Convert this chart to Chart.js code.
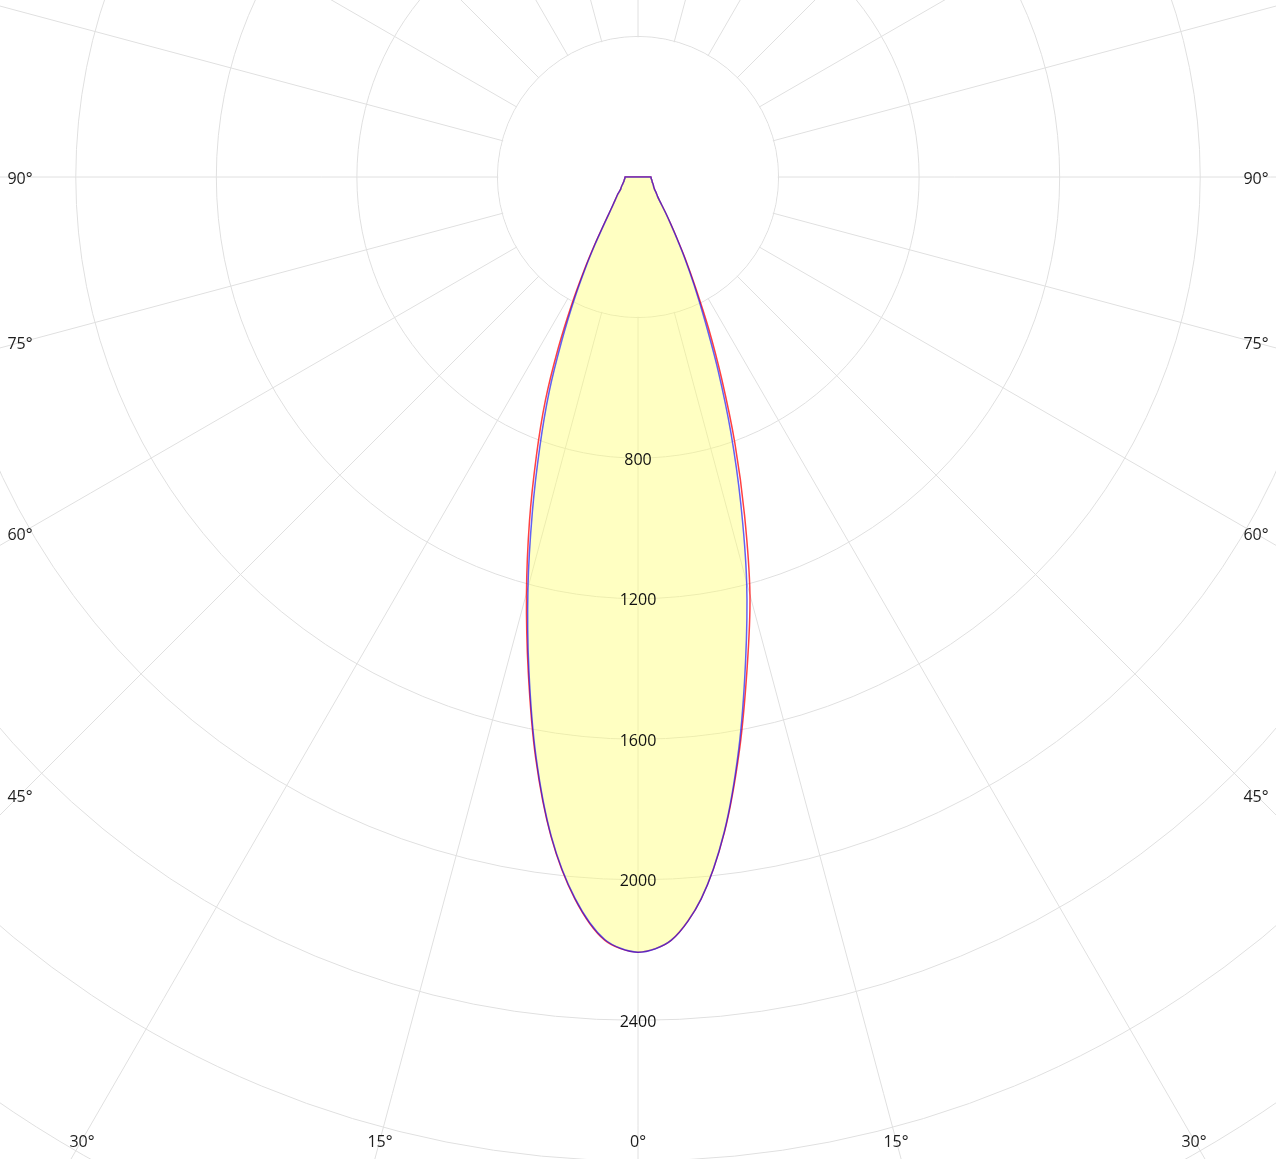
<!DOCTYPE html>
<html><head><meta charset="utf-8">
<script src="https://cdn.jsdelivr.net/npm/chart.js@4.4.1/dist/chart.umd.min.js"></script>
<style>
html,body{margin:0;padding:0;width:1276px;height:1159px;overflow:hidden;background:#fff;}
#wrap{position:absolute;left:0;top:0;width:1276px;height:1159px;overflow:hidden;}
#c{position:absolute;left:0;top:0;}
</style></head><body>
<div id="wrap"><canvas id="c" width="2530" height="2530"></canvas></div>
<script>
// gamma step (degrees) of the photometric readings
const gammaStep = 2.5;
// intensities (cd) for gamma = 0, 2.5, ... 90 degrees
const blueLeft  = [2206, 2172, 2060, 1892, 1673, 1435, 1210, 1000, 817, 660, 512, 393, 299, 228, 176, 142, 119, 103, 91, 82, 74, 66, 60, 57, 54, 51, 48, 46, 44, 42, 41, 40, 39, 38, 37, 37, 37];
const blueRight = [2206, 2174, 2062, 1880, 1652, 1414, 1195, 972, 772, 595, 450, 345, 265, 203, 160, 130, 106, 90, 79, 72, 66, 60, 56, 53, 51, 49, 47, 45, 43, 42, 41, 40, 39, 38, 37, 37, 37];
const redLeft   = [2206, 2174, 2062, 1894, 1678, 1443, 1226, 1027, 846, 689, 537, 408, 307, 232, 178, 143, 119, 103, 91, 82, 74, 66, 60, 57, 54, 51, 48, 46, 44, 42, 41, 40, 39, 38, 37, 37, 37];
const redRight  = [2206, 2174, 2062, 1882, 1660, 1434, 1231, 1008, 806, 623, 475, 355, 270, 205, 161, 130, 106, 90, 79, 72, 66, 60, 56, 53, 51, 49, 47, 45, 43, 42, 41, 40, 39, 38, 37, 37, 37];
// upper hemisphere (gamma 92.5 .. 267.5): no light
const upperHemisphere = [0,0,0,0,0,0,0,0,0,0,0,0,0,0,0,0,0,0,0,0,0,0,0,0,0,0,0,0,0,0,0,0,0,0,0,0,0,0,0,0,0,0,0,0,0,0,0,0,0,0,0,0,0,0,0,0,0,0,0,0,0,0,0,0,0,0,0,0,0,0,0];
// radial tick labels
const tickValues = [800, 1200, 1600, 2000, 2400];
const tickLabels = ['800', '1200', '1600', '2000', '2400'];
// angle labels
const angleMarks  = [0, 15, 30, 45, 60, 75, 90];
const angleLabels = ['0°', '15°', '30°', '45°', '60°', '75°', '90°'];

const PAGE_CX = 638, PAGE_CY = 177;
const TEXT_SHIFT = 2;
const labels = [];
for (let i = 0; i < 360 / gammaStep; i++) labels.push(String(i * gammaStep));

function buildLoop(left, right) {
  return left.concat(upperHemisphere, right.slice(1).reverse());
}

const decor = {
  id: 'decor',
  beforeDatasetsDraw(chart) {
    const s = chart.scales.r, ctx = chart.ctx;
    const r = s.getDistanceFromCenterForValue(400) - 0.8;
    ctx.save();
    ctx.beginPath();
    ctx.arc(s.xCenter, s.yCenter, r, 0, Math.PI * 2);
    ctx.fillStyle = '#ffffff';
    ctx.fill();
    ctx.restore();
  },
  afterDatasetsDraw(chart) {
    const s = chart.scales.r, ctx = chart.ctx;
    ctx.save();
    ctx.font = '16px "Open Sans"';
    ctx.textAlign = 'center';
    ctx.textBaseline = 'middle';
    ctx.fillStyle = '#111';
    tickValues.forEach((v, i) => {
      const d = s.getDistanceFromCenterForValue(v);
      ctx.fillText(tickLabels[i], s.xCenter, s.yCenter + d + TEXT_SHIFT);
    });
    ctx.fillStyle = '#1e1e1e';
    const box = {left: 20, right: 1256, bottom: 1140};
    angleMarks.forEach((g, i) => {
      const n = labels.length;
      const idxs = g === 0 ? [0] : [g / gammaStep, n - g / gammaStep];
      idxs.forEach(idx => {
        const p = s.getPointPosition(idx, 1000);
        const dx = (p.x - s.xCenter) / 1000, dy = (p.y - s.yCenter) / 1000;
        let t = Infinity;
        if (dx < -1e-9) t = Math.min(t, (box.left - PAGE_CX) / dx);
        if (dx > 1e-9) t = Math.min(t, (box.right - PAGE_CX) / dx);
        if (dy > 1e-9) t = Math.min(t, (box.bottom - PAGE_CY) / dy);
        ctx.fillText(angleLabels[i], s.xCenter + dx * t, s.yCenter + dy * t + TEXT_SHIFT);
      });
    });
    ctx.restore();
  },
  afterLayout(chart) {
    const s = chart.scales.r;
    chart.canvas.style.left = (PAGE_CX - s.xCenter) + 'px';
    chart.canvas.style.top = (PAGE_CY - s.yCenter) + 'px';
  }
};

const chart = new Chart(document.getElementById('c'), {
  type: 'radar',
  data: {
    labels: labels,
    datasets: [
      {
        label: 'C0-C180',
        data: buildLoop(blueLeft, blueRight),
        borderColor: 'rgba(0,0,255,0.62)',
        borderWidth: 1.5,
        backgroundColor: 'rgba(255,255,110,0.42)',
        fill: true,
        tension: 0.3,
        pointRadius: 0
      },
      {
        label: 'C90-C270',
        data: buildLoop(redLeft, redRight),
        borderColor: 'rgba(255,0,0,0.75)',
        borderWidth: 1.5,
        fill: false,
        tension: 0.3,
        pointRadius: 0
      }
    ]
  },
  options: {
    responsive: false,
    maintainAspectRatio: false,
    animation: false,
    devicePixelRatio: 1,
    layout: {padding: 0},
    plugins: {legend: {display: false}, tooltip: {enabled: false}},
    elements: {point: {radius: 0, hoverRadius: 0}},
    scales: {
      r: {
        min: 0,
        max: 3600,
        startAngle: 180,
        ticks: {display: false, stepSize: 400},
        grid: {circular: true, color: '#e0e0e0', lineWidth: 1},
        angleLines: {display: true, color: '#e0e0e0', lineWidth: c => (c.index % 6 === 0 ? 1 : 0)},
        pointLabels: {display: false}
      }
    }
  },
  plugins: [decor]
});
</script>
</body></html>
